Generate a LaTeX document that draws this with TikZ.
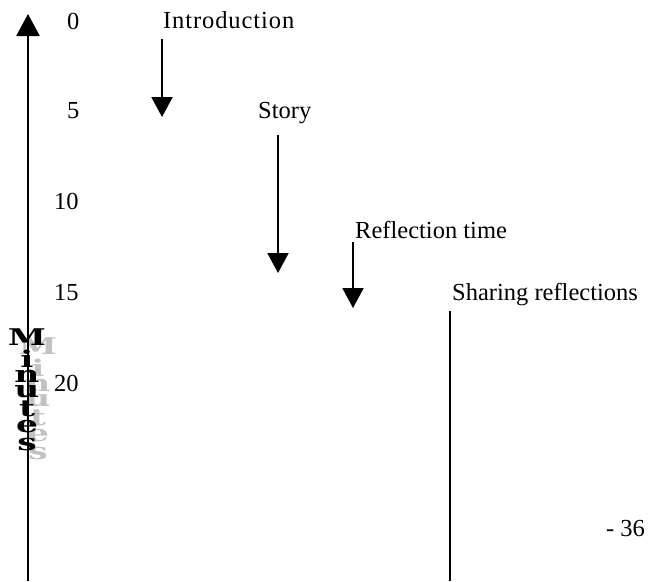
\documentclass[tikz,border=0pt]{standalone}
\usepackage{fontspec}
\setmainfont{Liberation Serif}
\newfontfamily\minfont{DejaVu Serif}
\usetikzlibrary{arrows.meta}
\begin{document}
\begin{tikzpicture}[x=1pt,y=-1pt,
  lbl/.style={anchor=base west, inner sep=0pt, font=\fontsize{24.5}{28}\selectfont},
  arr/.style={line width=2pt, -{Triangle[width=21pt,length=20pt]}},
  axisline/.style={line width=2.6pt, -{Triangle[width=23pt,length=22pt]}},
  letb/.style={anchor=base, inner sep=0pt, font=\fontsize{23}{23}\minfont\bfseries\selectfont, text=black, xscale=1.5, transform shape},
  letg/.style={letb, text=black!24}]
\useasboundingbox (0,0) rectangle (652,581);
% vertical "Minutes" with shadow (drawn first, axis on top)
\foreach \c/\y [count=\k] in {M/345,i/367,n/382,u/397,t/416,e/432,s/450}{
  \node[letg] (g\k) at (38,\y+9) {\c};
}
\foreach \c/\y [count=\k] in {M/345,i/367,n/382,u/397,t/416,e/432,s/450}{
  \node[letb] (m\k) at (27,\y) {\c};
}
% axis
\coordinate (ax0) at (28,581);
\coordinate (ax1) at (28,14);
\draw[axisline] (ax0) -- (ax1);
% minute labels
\node[lbl] (t0) at (67,29) {0};
\node[lbl] (t5) at (67,118) {5};
\node[lbl] (t10) at (54,209) {10};
\node[lbl] (t15) at (54,300) {15};
\node[lbl] (t20) at (54,391) {20};
% activities
\node[lbl] (intro) at (163,28) {\addfontfeature{LetterSpace=3.7}Introduction};
\node[lbl] (story) at (258,118) {Story};
\node[lbl] (refl) at (355,238) {Reflection time};
\node[lbl] (share) at (452,300) {Sharing reflections};
\node[lbl] (page) at (606,536) {- 36};
% arrows
\coordinate (a1s) at (162,39);  \coordinate (a1e) at (162,117);
\coordinate (a2s) at (278,135); \coordinate (a2e) at (278,273);
\coordinate (a3s) at (353,242); \coordinate (a3e) at (353,308);
\coordinate (a4s) at (450,311); \coordinate (a4e) at (450,581);
\draw[arr] (a1s) -- (a1e);
\draw[arr] (a2s) -- (a2e);
\draw[arr] (a3s) -- (a3e);
\draw[line width=2pt] (a4s) -- (a4e);
\end{tikzpicture}
\end{document}
